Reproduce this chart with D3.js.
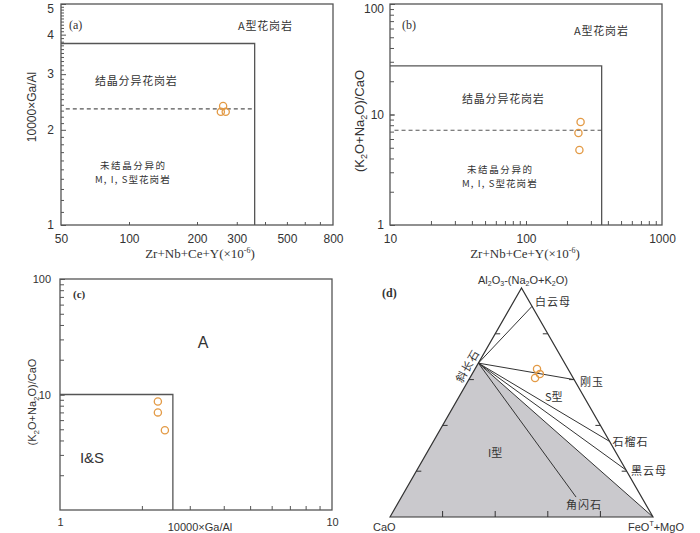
<!DOCTYPE html>
<html>
<head>
<meta charset="utf-8">
<script src="https://cdn.jsdelivr.net/npm/d3@7"></script>
<style>
  body { margin: 0; background: #fff; }
  svg { display: block; }
  text { font-family: "Liberation Sans", Arial, sans-serif; fill: #333; }
  .cjk { font-family: "Noto Sans CJK SC", sans-serif; }
  .serif { font-family: "Liberation Serif", "Times New Roman", serif; }
</style>
</head>
<body>
<svg width="700" height="533"></svg>
<script>
// ---- data ----
// (a) Zr+Nb+Ce+Y vs 10000*Ga/Al
const aZr = [261, 255, 268];
const aGaAl = [2.38, 2.28, 2.28];
const aXTicks = [100, 200, 300, 400, 500, 600, 700];
const aXLabels = [50, 100, 200, 300, 500, 800];
const aYLabels = [1, 2, 3, 4, 5];
// (b) Zr+Nb+Ce+Y vs (K2O+Na2O)/CaO
const bZr = [252, 243, 247];
const bAlk = [8.55, 6.8, 4.77];
const bXLabels = [10, 100, 1000];
const bYLabels = [1, 10, 100];
// (c) 10000*Ga/Al vs (K2O+Na2O)/CaO
const cGaAl = [2.29, 2.29, 2.43];
const cAlk = [8.7, 7.0, 4.9];
const cXLabels = [1, 10];
const cYLabels = [10, 100];
// boundaries of the fields
const zrLimit = 360;
const gaAlTop = 3.75, gaAlFG = 2.33;
const alkTop = 27.5, alkFG = 7.2;
const cGaAlLimit = 2.6, cAlkLimit = 10;
// (d) ACF ternary, fractions of A (Al2O3-(Na2O+K2O)) and F (FeOT+MgO)
const dA = [0.646, 0.624, 0.607];
const dF = [0.236, 0.258, 0.248];
const plagA = 0.672;                      // on the A-C edge
const mineralNames = ['白云母', '刚玉', '石榴石', '黑云母', '角闪石'];
const mineralA = [0.92, 0.6, 0.33, 0.205, 0.087];
const mineralF = [0.08, 0.4, 0.67, 0.795, 0.664];
const edgeTicks = [0.2, 0.4, 0.6, 0.8];

const svg = d3.select('svg');
const frameColor = '#555';
const dotColor = '#e39a45';

// minor log ticks 1..9 in each decade inside a domain
const logTicks = (lo, hi) => {
  const out = [];
  for (let e = Math.floor(Math.log10(lo)); e <= Math.ceil(Math.log10(hi)); e++) {
    const base = Math.pow(10, e);
    for (let m = 1; m < 10; m++) {
      const v = +(m * base).toFixed(6);
      if (v > lo && v < hi) out.push(v);
    }
  }
  return out;
};

// draw frame, inward ticks and labels for a log-log panel
function drawFrame(g, x, y, opt) {
  const [x0, x1] = x.range();
  const [y0, y1] = y.range();
  g.append('g').attr('transform', `translate(0,${y0})`)
    .call(d3.axisBottom(x).tickValues(opt.xMinor).tickSize(-opt.minor).tickFormat(''));
  g.append('g').attr('transform', `translate(${x0},0)`)
    .call(d3.axisLeft(y).tickValues(opt.yMinor).tickSize(-opt.minor).tickFormat(''));
  g.append('g').attr('transform', `translate(0,${y0})`)
    .call(d3.axisBottom(x).tickValues(opt.xLabels).tickSize(0).tickPadding(opt.xPad).tickFormat(d3.format('d')));
  const yl = g.append('g').attr('transform', `translate(${x0},0)`)
    .call(d3.axisLeft(y).tickValues(opt.yLabels).tickSize(-opt.major).tickPadding(opt.yPad).tickFormat(d3.format('d')));
  // top label sits on the frame edge, nudge it inside the page
  yl.selectAll('.tick text').filter((d) => y(d) < 8).attr('dy', '0.7em');
  g.selectAll('.domain').remove();
  g.selectAll('.tick line').attr('stroke', frameColor);
  g.selectAll('.tick text').attr('font-size', opt.fs).attr('font-family', '"Liberation Sans", Arial, sans-serif').attr('fill', '#333');
  g.append('rect').attr('x', x0).attr('y', y1).attr('width', x1 - x0).attr('height', y0 - y1)
    .attr('fill', 'none').attr('stroke', frameColor).attr('stroke-width', 1.3);
}

const dots = (g, xs, ys, x, y) => {
  g.selectAll('circle.pt').data(xs).join('circle').attr('class', 'pt')
    .attr('cx', (d) => x(d)).attr('cy', (d, i) => y(ys[i])).attr('r', 3.6)
    .attr('fill', 'none').attr('stroke', dotColor).attr('stroke-width', 1.3);
};

const label = (g, txt, px, py, cls, fs, anchor) => g.append('text').attr('class', cls || '')
  .attr('x', px).attr('y', py).attr('font-size', fs || 11).attr('text-anchor', anchor || 'start').text(txt);

// ---------- (a) ----------
{
  const g = svg.append('g');
  const x = d3.scaleLog().domain([50, 800]).range([61, 333]);
  const y = d3.scaleLog().domain([1, 5]).range([225, 4]);
  const yMinor = d3.range(11, 50).map((d) => d / 10).filter((d) => d % 1 !== 0);
  drawFrame(g, x, y, { xMinor: aXTicks, yMinor, xLabels: aXLabels, yLabels: aYLabels,
    minor: 3, major: 5, xPad: 9, yPad: 7, fs: 12 });
  g.append('path').attr('d', d3.line()([[x(zrLimit), y(1)], [x(zrLimit), y(gaAlTop)], [x(50), y(gaAlTop)]]))
    .attr('fill', 'none').attr('stroke', frameColor).attr('stroke-width', 1.3);
  g.append('line').attr('x1', x(52.5)).attr('x2', x(zrLimit)).attr('y1', y(gaAlFG)).attr('y2', y(gaAlFG))
    .attr('stroke', frameColor).attr('stroke-width', 1.2).attr('stroke-dasharray', '4,3');
  dots(g, aZr, aGaAl, x, y);
  label(g, '(a)', 69, 29, 'serif', 12);
  label(g, 'A型花岗岩', 238, 30, 'cjk', 11).attr('letter-spacing', 0.8);
  label(g, '结晶分异花岗岩', 95, 85, 'cjk', 11).attr('letter-spacing', 0.8);
  label(g, '未结晶分异的', 100, 169, 'cjk', 9.5).attr('letter-spacing', 1.6);
  label(g, 'M, I, S型花岗岩', 95, 183, 'cjk', 9.5).attr('letter-spacing', 1.1);
  label(g, '10000×Ga/Al', 0, 0, '', 12, 'middle').attr('transform', 'translate(36,107) rotate(-90)');
  const xl = label(g, 'Zr+Nb+Ce+Y(×10', 200, 258, 'serif', 13, 'middle');
  xl.append('tspan').attr('font-size', 8).attr('dy', -5).text('-6');
  xl.append('tspan').attr('dy', 5).text(')');
}

// ---------- (b) ----------
{
  const g = svg.append('g');
  const x = d3.scaleLog().domain([10, 1000]).range([390, 662]);
  const y = d3.scaleLog().domain([1, 100]).range([225, 4]);
  drawFrame(g, x, y, { xMinor: logTicks(10, 1000), yMinor: logTicks(1, 100), xLabels: bXLabels, yLabels: bYLabels,
    minor: 4, major: 5, xPad: 9, yPad: 6, fs: 12 });
  g.append('path').attr('d', d3.line()([[x(zrLimit), y(1)], [x(zrLimit), y(alkTop)], [x(10), y(alkTop)]]))
    .attr('fill', 'none').attr('stroke', frameColor).attr('stroke-width', 1.3);
  g.append('line').attr('x1', x(10.8)).attr('x2', x(zrLimit)).attr('y1', y(alkFG)).attr('y2', y(alkFG))
    .attr('stroke', frameColor).attr('stroke-width', 1.2).attr('stroke-dasharray', '4,3');
  dots(g, bZr, bAlk, x, y);
  label(g, '(b)', 402, 29, 'serif', 12);
  label(g, 'A型花岗岩', 574, 35, 'cjk', 11).attr('letter-spacing', 0.8);
  label(g, '结晶分异花岗岩', 462, 103, 'cjk', 11).attr('letter-spacing', 0.8);
  label(g, '未结晶分异的', 467, 173, 'cjk', 9.5).attr('letter-spacing', 1.6);
  label(g, 'M, I, S型花岗岩', 462, 187, 'cjk', 9.5).attr('letter-spacing', 1.1);
  const yl = label(g, '(K', 0, 0, '', 13, 'middle').attr('transform', 'translate(364,121) rotate(-90)');
  yl.append('tspan').attr('font-size', 9).attr('dy', 3).text('2');
  yl.append('tspan').attr('dy', -3).text('O+Na');
  yl.append('tspan').attr('font-size', 9).attr('dy', 3).text('2');
  yl.append('tspan').attr('dy', -3).text('O)/CaO');
  const xl = label(g, 'Zr+Nb+Ce+Y(×10', 525, 258, 'serif', 13, 'middle');
  xl.append('tspan').attr('font-size', 8).attr('dy', -5).text('-6');
  xl.append('tspan').attr('dy', 5).text(')');
}

// ---------- (c) ----------
{
  const g = svg.append('g');
  const x = d3.scaleLog().domain([1, 10]).range([60, 332]);
  const y = d3.scaleLog().domain([1, 100]).range([510, 279]);
  drawFrame(g, x, y, { xMinor: logTicks(1, 10), yMinor: logTicks(1, 100), xLabels: cXLabels, yLabels: cYLabels,
    minor: 4, major: 5, xPad: 8, yPad: 9, fs: 11 });
  g.append('path').attr('d', d3.line()([[x(cGaAlLimit), y(1)], [x(cGaAlLimit), y(cAlkLimit)], [x(1), y(cAlkLimit)]]))
    .attr('fill', 'none').attr('stroke', frameColor).attr('stroke-width', 1.3);
  dots(g, cGaAl, cAlk, x, y);
  label(g, '(c)', 73, 298, 'serif', 11).attr('font-weight', 'bold');
  label(g, 'A', 203, 348, '', 16, 'middle');
  label(g, 'I&S', 92, 463, '', 15, 'middle');
  label(g, '10000×Ga/Al', 200, 531, '', 11, 'middle');
  const yl = label(g, '(K', 0, 0, '', 11, 'middle').attr('transform', 'translate(36,402) rotate(-90)');
  yl.append('tspan').attr('font-size', 8).attr('dy', 3).text('2');
  yl.append('tspan').attr('dy', -3).text('O+Na');
  yl.append('tspan').attr('font-size', 8).attr('dy', 3).text('2');
  yl.append('tspan').attr('dy', -3).text('O)/CaO');
}

// ---------- (d) ternary ----------
{
  const g = svg.append('g');
  // position along the base and height of the triangle
  const tx = d3.scaleLinear().domain([0, 1]).range([390, 653]);
  const ty = d3.scaleLinear().domain([0, 1]).range([517, 288]);
  const pt = (a, f) => [tx(f + a / 2), ty(a)];
  const C = pt(0, 0), F = pt(0, 1), A = pt(1, 0);
  const plag = pt(plagA, 0);

  g.append('path').attr('d', d3.line()([C, plag, F]) + 'Z').attr('fill', '#cac9cd').attr('stroke', 'none');
  g.append('path').attr('d', d3.line()([C, A, F]) + 'Z').attr('fill', 'none')
    .attr('stroke', '#333').attr('stroke-width', 1.2);

  // tie lines from plagioclase
  const ends = mineralA.map((a, i) => pt(a, mineralF[i])).concat([F]);
  g.selectAll('line.tie').data(ends).join('line').attr('class', 'tie')
    .attr('x1', plag[0]).attr('y1', plag[1]).attr('x2', (d) => d[0]).attr('y2', (d) => d[1])
    .attr('stroke', '#333').attr('stroke-width', 1);

  // edge ticks
  edgeTicks.forEach((t) => {
    const b = pt(0, t);
    g.append('line').attr('x1', b[0]).attr('x2', b[0]).attr('y1', b[1]).attr('y2', b[1] - 6).attr('stroke', '#333');
    const l = pt(t, 0);
    g.append('line').attr('x1', l[0]).attr('x2', l[0] + 5).attr('y1', l[1]).attr('y2', l[1]).attr('stroke', '#333');
    const r = pt(t, 1 - t);
    g.append('line').attr('x1', r[0]).attr('x2', r[0] - 5).attr('y1', r[1]).attr('y2', r[1]).attr('stroke', '#333');
  });

  g.selectAll('circle.pt').data(dA).join('circle').attr('class', 'pt')
    .attr('cx', (d, i) => pt(d, dF[i])[0]).attr('cy', (d) => ty(d)).attr('r', 3.6)
    .attr('fill', 'none').attr('stroke', dotColor).attr('stroke-width', 1.3);

  // mineral names next to their end points
  const offs = [[3, 0], [6, 6], [3, 5], [5, 5], [-10, 12]];
  mineralNames.forEach((n, i) => {
    const p = pt(mineralA[i], mineralF[i]);
    label(g, n, p[0] + offs[i][0], p[1] + offs[i][1], 'cjk', 11).attr('letter-spacing', 1);
  });
  label(g, 'S型', 545, 401, 'cjk', 11);
  label(g, 'I型', 488, 457, 'cjk', 11);
  label(g, '斜长石', 0, 0, 'cjk', 11, 'middle').attr('letter-spacing', 1)
    .attr('transform', 'translate(471,368) rotate(-60)');
  label(g, '(d)', 382, 297, 'serif', 12).attr('font-weight', 'bold');
  label(g, 'CaO', 373, 531, '', 11);
  const fm = label(g, 'FeO', 628, 531, '', 11);
  fm.append('tspan').attr('font-size', 7).attr('dy', -5).text('T');
  fm.append('tspan').attr('dy', 5).text('+MgO');
  const top = label(g, 'Al', 523, 284, '', 11, 'middle');
  [['2', 1], ['O', 0], ['3', 1], ['-(Na', 0], ['2', 1], ['O+K', 0], ['2', 1], ['O)', 0]].forEach(([s, sub], i, arr) => {
    const prevSub = i > 0 ? arr[i - 1][1] : 0;
    top.append('tspan').attr('font-size', sub ? 7 : 11).attr('dy', (sub ? 2 : 0) - (prevSub ? 2 : 0)).text(s);
  });
}
</script>
</body>
</html>
